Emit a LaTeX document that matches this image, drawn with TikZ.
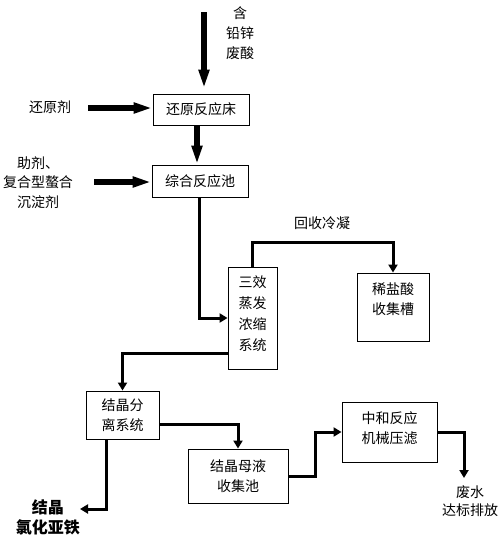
\documentclass[tikz,border=0pt]{standalone}
\usepackage{fontspec}
\newfontfamily\cjk{Noto Sans CJK SC}
\usetikzlibrary{arrows.meta}
\begin{document}
\begin{tikzpicture}[x=1pt,y=-1pt,
  box/.style={draw, line width=0.9pt, inner sep=0pt, align=center,
    font=\cjk\fontsize{14}{20}\selectfont},
  txt/.style={inner sep=0pt, align=center, font=\cjk\fontsize{14}{20}\selectfont},
  bigarrow/.style={line width=5.5pt, -{Triangle[length=19pt,width=10pt]}},
  flow/.style={line width=3pt, -{Triangle[length=8pt,width=9pt]}}]
\useasboundingbox (0,0) rectangle (502,536);
% boxes
\node[box, minimum width=96pt, minimum height=31pt] (b1) at (201,109.5) {还原反应床};
\node[box, minimum width=96pt, minimum height=32pt] (b2) at (200,181) {综合反应池};
\node[box, minimum width=49pt, minimum height=102pt] (b3) at (252.5,318) {};
\node[txt, font=\cjk\fontsize{14}{21}\selectfont] (t3) at (252.5,313.5) {三效\\蒸发\\浓缩\\系统};
\node[box, minimum width=72pt, minimum height=68pt] (b4) at (393,307) {};
\node[txt] (t4) at (393,299) {稀盐酸\\收集槽};
\node[box, minimum width=73pt, minimum height=48pt] (b5) at (122.5,415) {结晶分\\离系统};
\node[box, minimum width=100pt, minimum height=54pt] (b6) at (238,476) {结晶母液\\收集池};
\node[box, minimum width=95pt, minimum height=60pt] (b7) at (389.5,432) {};
\node[txt] (t7) at (389.5,428) {中和反应\\机械压滤};
% labels
\node[txt] (l1) at (240,33) {含\\铅锌\\废酸};
\node[txt] (l2) at (50,107) {还原剂};
\node[txt, font=\cjk\fontsize{14}{19.5}\selectfont] (l3) at (38,182.5) {助剂、\\复合型螯合\\沉淀剂};
\node[txt] (l4) at (322,223) {回收冷凝};
\node[txt, font=\cjk\fontsize{14}{18}\selectfont] (l5) at (470,501) {废水\\达标排放};
\node[txt, font=\cjk\bfseries\fontsize{16}{20}\selectfont] (l6) at (48,517) {结晶\\氯化亚铁};
% free ends
\coordinate (in1) at (204,12);
\coordinate (in2) at (88,108);
\coordinate (in3) at (94,182);
\coordinate (out1) at (464,478);
\coordinate (out2) at (80,509);
% connectors
\draw[bigarrow, shorten >=5pt] (in1) -- (in1 |- b1.north);
\draw[bigarrow] (in2) -- (in2 -| b1.west);
\draw[bigarrow] ([xshift=-4pt]b1.south) -- ([xshift=-4pt]b1.south |- b2.north);
\draw[bigarrow] (in3) -- (in3 -| b2.west);
\draw[flow] ([xshift=-1pt]b2.south) |- (b3.west);
\draw[flow] (b3.north) -- ([yshift=24pt]b3.north) -| (b4.north);
\draw[flow] ([yshift=-35pt]b3.west) -| (b5.north);
\draw[flow] ([yshift=-9pt]b5.east) -| (b6.north);
\draw[flow] (b6.east) -- ++(27,0) |- (b7.west);
\draw[flow] (b7.east) -| (out1);
\draw[flow] ([xshift=-16pt]b5.south) |- (out2);
\end{tikzpicture}
\end{document}
